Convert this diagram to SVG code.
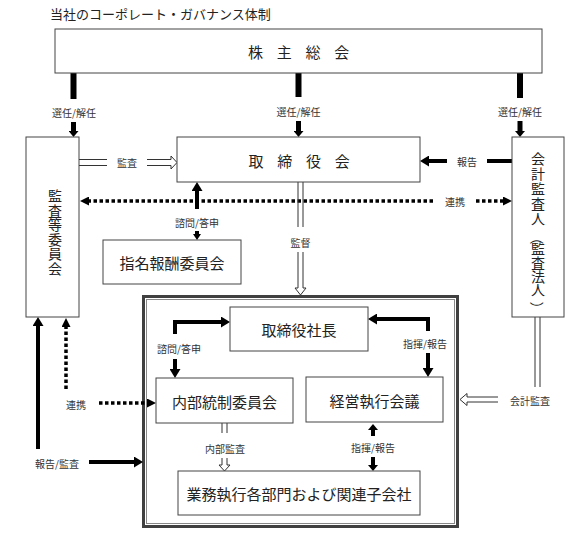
<svg xmlns="http://www.w3.org/2000/svg" width="566" height="535" viewBox="0 0 566 535">
<style>
  text { font-family: "Noto Sans CJK JP", "Noto Sans", sans-serif; fill: #222; }
  .box { fill: #fff; stroke: #444; stroke-width: 1; }
  .big { font-size: 15px; text-anchor: middle; dominant-baseline: central; }
  .sp { font-size: 15px; text-anchor: middle; dominant-baseline: central; letter-spacing: 13.7px; }
  .vc { font-size: 14px; text-anchor: middle; dominant-baseline: central; }
  .lbl { font-size: 10px; text-anchor: middle; dominant-baseline: central; fill: #333; }
  .thick { fill: none; stroke: #000; stroke-width: 4; }
  .bar { fill: none; stroke: #000; stroke-width: 6; }
  .stem { fill: none; stroke: #000; stroke-width: 5; }
  .dot { fill: none; stroke: #000; stroke-width: 3.5; stroke-dasharray: 3.5 2.5; }
  .dbl { fill: #fff; stroke: #333; stroke-width: 1; }
</style>
<defs>
  <marker id="mBig" markerUnits="userSpaceOnUse" viewBox="0 0 9 11" markerWidth="9" markerHeight="11" refX="0" refY="5.5" orient="auto">
    <path d="M0,0 L9,5.5 L0,11 z" fill="#000"/>
  </marker>
  <marker id="mSmall" markerUnits="userSpaceOnUse" viewBox="0 0 6 10" markerWidth="6" markerHeight="10" refX="0" refY="5" orient="auto">
    <path d="M0,0 L6,5 L0,10 z" fill="#000"/>
  </marker>
  <marker id="mTiny" markerUnits="userSpaceOnUse" viewBox="0 0 6 8" markerWidth="6" markerHeight="8" refX="0" refY="4" orient="auto">
    <path d="M0,0 L6,4 L0,8 z" fill="#000"/>
  </marker>
  <marker id="mDot" markerUnits="userSpaceOnUse" viewBox="0 0 9 9" markerWidth="9" markerHeight="9" refX="0" refY="4.5" orient="auto">
    <path d="M0,0 L9,4.5 L0,9 z" fill="#000"/>
  </marker>
</defs>

<text x="50" y="13" style="font-size:13px; dominant-baseline:central;">当社のコーポレート・ガバナンス体制</text>

<g id="n-outer">
  <rect x="143.5" y="296.5" width="314" height="230" fill="none" stroke="#404040" stroke-width="3"/>
  <rect x="146.5" y="299.5" width="308" height="224" fill="none" stroke="#888" stroke-width="1"/>
</g>

<g id="connectors">
  <!-- 選任/解任 -->
  <line class="bar" x1="73.5" y1="73" x2="73.5" y2="99"/>
  <line class="bar" x1="298.5" y1="73" x2="298.5" y2="97"/>
  <line class="bar" x1="520" y1="73" x2="520" y2="98"/>
  <text class="lbl" x="74" y="112">選任/解任</text>
  <text class="lbl" x="298.5" y="111">選任/解任</text>
  <text class="lbl" x="520" y="111">選任/解任</text>
  <line class="stem" x1="73.5" y1="122" x2="73.5" y2="131" marker-end="url(#mSmall)"/>
  <line class="stem" x1="298.5" y1="121" x2="298.5" y2="131" marker-end="url(#mSmall)"/>
  <line class="stem" x1="520" y1="121" x2="520" y2="131" marker-end="url(#mSmall)"/>

  <!-- 監査 -->
  <path class="dbl" d="M79,159.5 H107 M79,165.5 H107"/>
  <text class="lbl" x="127" y="162">監査</text>
  <path class="dbl" d="M147,159.5 H171 V156 L177,162.5 L171,169 V165.5 H147"/>

  <!-- 報告 -->
  <line class="thick" x1="512" y1="161" x2="487" y2="161"/>
  <text class="lbl" x="467" y="161">報告</text>
  <line class="thick" x1="447" y1="161" x2="429" y2="161" marker-end="url(#mBig)"/>

  <!-- 連携 (top) -->
  <line class="dot" x1="433" y1="201" x2="89" y2="201" marker-end="url(#mDot)"/>
  <text class="lbl" x="455" y="201">連携</text>
  <line class="dot" x1="476" y1="201" x2="503" y2="201" marker-end="url(#mDot)"/>

  <!-- 諮問/答申 (board - nomination) -->
  <line class="thick" x1="197" y1="209" x2="197" y2="191" marker-end="url(#mBig)"/>
  <text class="lbl" x="197" y="222">諮問/答申</text>
  <line class="thick" x1="197" y1="231" x2="197" y2="234" marker-end="url(#mTiny)"/>

  <!-- 監督 -->
  <path class="dbl" d="M298,182 V227 M303,182 V227"/>
  <text class="lbl" x="300.5" y="242">監督</text>
  <path class="dbl" d="M298,252 V288 H295 L300.5,295 L306,288 H303 V252"/>

  <!-- 諮問/答申 (internal - president) -->
  <path class="thick" d="M175,334 V322 H221" marker-end="url(#mBig)"/>
  <text class="lbl" x="179" y="348">諮問/答申</text>
  <line class="thick" x1="175" y1="359" x2="175" y2="369" marker-end="url(#mBig)"/>

  <!-- 指揮/報告 (president - exec) -->
  <path class="thick" d="M428,331 V319 H377" marker-end="url(#mBig)"/>
  <text class="lbl" x="425" y="343">指揮/報告</text>
  <line class="thick" x1="428" y1="353" x2="428" y2="368" marker-end="url(#mBig)"/>

  <!-- 指揮/報告 (exec - ops) -->
  <line class="thick" x1="373" y1="436" x2="373" y2="430" marker-end="url(#mSmall)"/>
  <text class="lbl" x="373" y="447">指揮/報告</text>
  <line class="thick" x1="373" y1="457" x2="373" y2="465" marker-end="url(#mSmall)"/>

  <!-- 内部監査 -->
  <path class="dbl" d="M222,423 V433 M227,423 V433"/>
  <text class="lbl" x="225" y="448">内部監査</text>
  <path class="dbl" d="M222,458 V465 H219 L224.5,471 L230,465 H227 V458"/>

  <!-- 報告/監査 -->
  <line class="thick" x1="38" y1="449" x2="38" y2="326" marker-end="url(#mBig)"/>
  <text class="lbl" x="57" y="463">報告/監査</text>
  <line class="thick" x1="89" y1="462" x2="134" y2="462" marker-end="url(#mBig)"/>

  <!-- 連携 (bottom-left) -->
  <line class="dot" x1="66" y1="389" x2="66" y2="327" marker-end="url(#mDot)"/>
  <text class="lbl" x="76" y="404">連携</text>
  <line class="dot" x1="99" y1="403" x2="147" y2="403" marker-end="url(#mDot)"/>

  <!-- 会計監査 -->
  <path class="dbl" d="M535,317 V387 M540,317 V387"/>
  <text class="lbl" x="530" y="400">会計監査</text>
  <path class="dbl" d="M498,397 H467 V393.5 L460,399.5 L467,405.5 V402 H498"/>
</g>

<g id="n-general">
  <rect class="box" x="55" y="29" width="487" height="44"/>
  <text class="sp" x="305.5" y="51">株主総会</text>
</g>
<g id="n-board">
  <rect class="box" x="177" y="137" width="243" height="45"/>
  <text class="sp" x="306" y="160">取締役会</text>
</g>
<g id="n-audit-committee">
  <rect class="box" x="26" y="137" width="53" height="180"/>
  <text class="vc" x="55 55 55 55 55 55" y="195 209.5 224 238.5 253 267.5">監査等委員会</text>
</g>
<g id="n-accountant">
  <rect class="box" x="512" y="137" width="52" height="180"/>
  <text class="vc" x="538 538 538 538 538 539 538 538 538 538 539" y="158 173 188 203 217.5 224.5 248 262 276 289 295.5" rotate="0 0 0 0 0 90 0 0 0 0 90">会計監査人（監査法人）</text>
</g>
<g id="n-nomination">
  <rect class="box" x="103" y="240" width="138" height="44"/>
  <text class="big" x="172" y="262">指名報酬委員会</text>
</g>
<g id="n-president">
  <rect class="box" x="230" y="307" width="138" height="44"/>
  <text class="big" x="299" y="329">取締役社長</text>
</g>
<g id="n-internal">
  <rect class="box" x="156" y="378" width="137" height="45"/>
  <text class="big" x="224.5" y="401">内部統制委員会</text>
</g>
<g id="n-exec">
  <rect class="box" x="306" y="377" width="137" height="45"/>
  <text class="big" x="374.5" y="400">経営執行会議</text>
</g>
<g id="n-ops">
  <rect class="box" x="178" y="471" width="242" height="44"/>
  <text class="big" x="299" y="493">業務執行各部門および関連子会社</text>
</g>
</svg>
